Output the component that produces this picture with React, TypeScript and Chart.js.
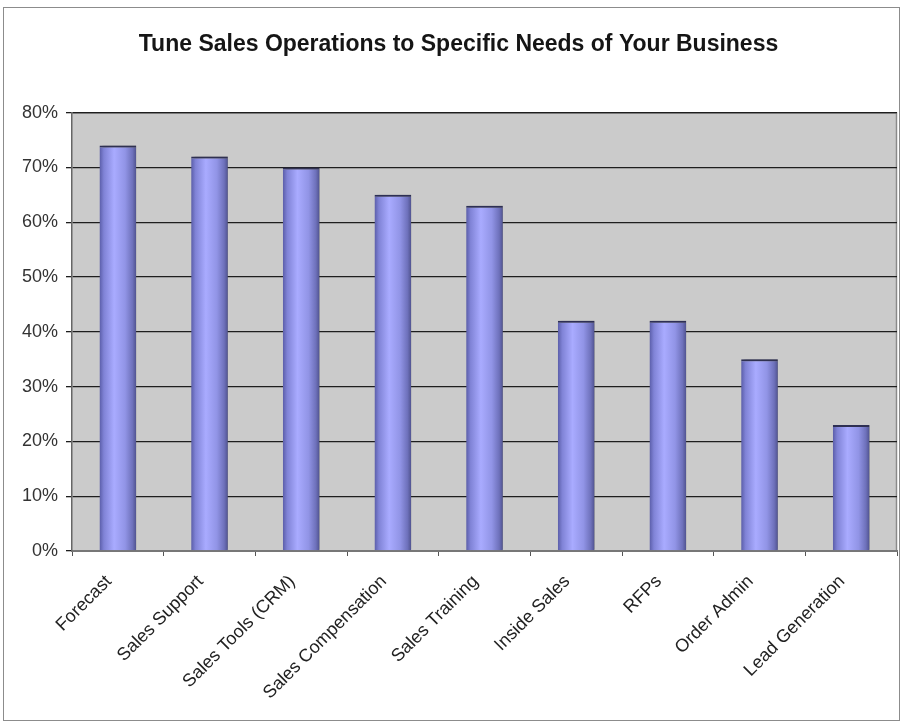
import React, { useEffect, useRef } from "react";
import { Chart, registerables } from "chart.js";

Chart.register(...registerables);

const TITLE = "Tune Sales Operations to Specific Needs of Your Business";
const categories = [
  "Forecast",
  "Sales Support",
  "Sales Tools (CRM)",
  "Sales Compensation",
  "Sales Training",
  "Inside Sales",
  "RFPs",
  "Order Admin",
  "Lead Generation",
];
const values = [74, 72, 70, 65, 63, 42, 42, 35, 23];
const yMin = 0;
const yMax = 80;
const yStep = 10;

const BAR_PCT = 0.4;

const plotBg = {
  id: "plotBg",
  beforeDraw(chart: any) {
    const { ctx, chartArea: a } = chart;
    ctx.save();
    ctx.fillStyle = "#cbcbcb";
    ctx.fillRect(a.left, a.top, a.right - a.left, a.bottom - a.top);
    ctx.strokeStyle = "#8a8a8a";
    ctx.lineWidth = 1.5;
    ctx.beginPath();
    ctx.moveTo(a.left, a.top + 0.5);
    ctx.lineTo(a.right - 0.5, a.top + 0.5);
    ctx.lineTo(a.right - 0.5, a.bottom);
    ctx.stroke();
    ctx.restore();
  },
  beforeDatasetsDraw(chart: any) {
    const ctx = chart.ctx;
    ctx.save();
    ctx.shadowColor = "rgba(60,60,60,0.55)";
    ctx.shadowOffsetX = 3;
    ctx.shadowOffsetY = 0;
    ctx.shadowBlur = 2;
  },
  afterDatasetsDraw(chart: any) {
    chart.ctx.restore();
  },
};

function barFill(c: any) {
  const ch = c.chart;
  const xs = ch.scales && ch.scales.x;
  if (!xs || c.dataIndex === undefined) return "#a4a7f5";
  const cx = xs.getPixelForValue(c.dataIndex);
  const w = (xs.getPixelForValue(1) - xs.getPixelForValue(0)) * BAR_PCT;
  if (!isFinite(cx) || !isFinite(w) || w <= 0) return "#a4a7f5";
  const g = ch.ctx.createLinearGradient(cx - w / 2, 0, cx + w / 2, 0);
  g.addColorStop(0, "#5a5da8");
  g.addColorStop(0.12, "#8083d6");
  g.addColorStop(0.4, "#a9abff");
  g.addColorStop(0.7, "#9194e6");
  g.addColorStop(0.9, "#6e71bb");
  g.addColorStop(1, "#50538f");
  return g;
}

export default function App() {
  const ref = useRef<HTMLCanvasElement | null>(null);
  useEffect(() => {
    document.body.style.margin = "0";
    const canvas = ref.current!;
    const chart = new Chart(canvas, {
      type: "bar",
      data: {
        labels: categories,
        datasets: [
          {
            data: values,
            backgroundColor: barFill,
            borderColor: "#2d2f55",
            borderWidth: { top: 2, left: 0, right: 0, bottom: 0 },
            borderSkipped: false,
            barPercentage: BAR_PCT,
            categoryPercentage: 1,
          },
        ],
      },
      options: {
        responsive: false,
        animation: false,
        layout: { padding: { top: 8, left: 20, right: 4, bottom: 0 } },
        plugins: {
          legend: { display: false },
          tooltip: { enabled: false },
          title: {
            display: true,
            text: TITLE,
            color: "#151515",
            font: { family: "Liberation Sans, Arial, sans-serif", size: 23, weight: "bold" },
            padding: { top: 23, bottom: 54 },
          },
        },
        scales: {
          x: {
            afterFit: (s: any) => {
              s.height = 174;
            },
            grid: {
              offset: true,
              drawOnChartArea: false,
              drawTicks: true,
              tickLength: 5,
              color: "#555",
            },
            border: { color: "#777", width: 2 },
            ticks: {
              minRotation: 45,
              maxRotation: 45,
              autoSkip: false,
              padding: 15,
              labelOffset: -9,
              color: "#222",
              font: { family: "Liberation Sans, Arial, sans-serif", size: 18 },
            },
          },
          y: {
            min: yMin,
            max: yMax,
            afterFit: (s: any) => {
              s.width = 52;
            },
            grid: {
              color: "#1e1e1e",
              lineWidth: 1.3,
              tickLength: 6,
              drawTicks: true,
            },
            border: { color: "#666", width: 1.5 },
            ticks: {
              stepSize: yStep,
              padding: 8,
              color: "#333",
              font: { family: "Liberation Sans, Arial, sans-serif", size: 18 },
              callback: (v: any) => v + "%",
            },
          },
        },
      },
      plugins: [plotBg],
    });
    chart.update();
    return () => chart.destroy();
  }, []);
  return (
    <div style={{ position: "relative", width: 901, height: 725, background: "#fff" }}>
      <div
        style={{
          position: "absolute",
          left: 3,
          top: 7,
          width: 897,
          height: 714,
          border: "1.5px solid #8c8c8c",
          boxSizing: "border-box",
        }}
      />
      <canvas ref={ref} width={901} height={725} style={{ position: "absolute", left: 0, top: 0 }} />
    </div>
  );
}
